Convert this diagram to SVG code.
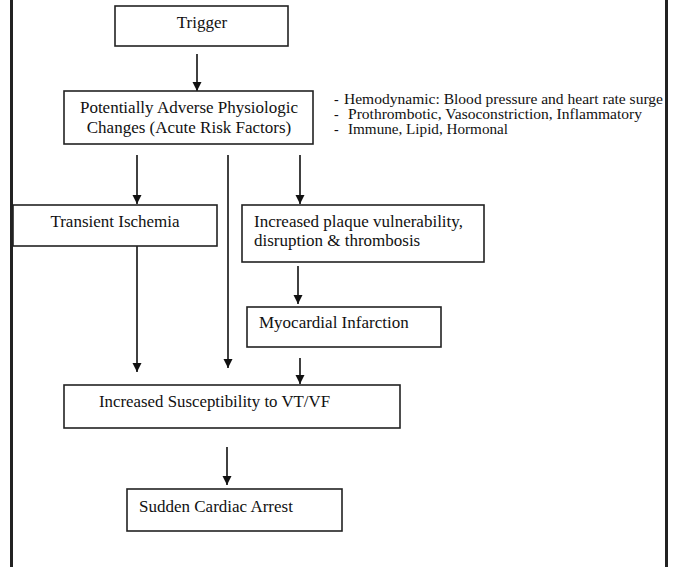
<svg xmlns="http://www.w3.org/2000/svg" width="678" height="567" viewBox="0 0 678 567">
<defs>
<style>
.box{fill:#fff;stroke:#222;stroke-width:1.6}
.t{font-family:"Liberation Serif","Times New Roman",serif;font-size:17px;fill:#111}
.s{font-family:"Liberation Serif","Times New Roman",serif;font-size:14px;fill:#111}
.c{stroke:#111;stroke-width:1.6;fill:none;marker-end:url(#ah)}
.frame{stroke:#222;stroke-width:3}
</style>
<marker id="ah" viewBox="0 0 10 10" refX="10" refY="5" markerUnits="userSpaceOnUse" markerWidth="9" markerHeight="10" orient="auto">
<path d="M0,0 L10,5 L0,10 Z" fill="#111"/>
</marker>
</defs>
<rect width="678" height="567" fill="#fff"/>
<line class="frame" x1="11.5" y1="0" x2="11.5" y2="567"/>
<line class="frame" x1="666.5" y1="0" x2="666.5" y2="567"/>
<g id="connectors">
<line class="c" x1="197" y1="54" x2="197" y2="91"/>
<line class="c" x1="137" y1="155" x2="137" y2="204"/>
<line class="c" x1="228" y1="155" x2="228" y2="368"/>
<line class="c" x1="300" y1="155" x2="300" y2="204"/>
<line class="c" x1="137" y1="246" x2="137" y2="372"/>
<line class="c" x1="298" y1="266" x2="298" y2="304"/>
<line class="c" x1="300" y1="358" x2="300" y2="384"/>
<line class="c" x1="227" y1="447" x2="227" y2="485"/>
</g>
<g id="trigger">
<rect class="box" x="115" y="6" width="173" height="40"/>
<text class="t" x="202" y="28" text-anchor="middle">Trigger</text>
</g>
<g id="adverse">
<rect class="box" x="64" y="91" width="249" height="53"/>
<text class="t" x="189" y="113" text-anchor="middle">Potentially Adverse Physiologic</text>
<text class="t" x="189" y="133" text-anchor="middle">Changes (Acute Risk Factors)</text>
</g>
<g id="risk-list">
<text class="s" x="334" y="104">-</text>
<text class="s" x="344" y="104" textLength="319" lengthAdjust="spacingAndGlyphs">Hemodynamic: Blood pressure and heart rate surge</text>
<text class="s" x="334" y="119">-</text>
<text class="s" x="348" y="119" textLength="294" lengthAdjust="spacingAndGlyphs">Prothrombotic, Vasoconstriction, Inflammatory</text>
<text class="s" x="334" y="134">-</text>
<text class="s" x="348" y="134" textLength="160" lengthAdjust="spacingAndGlyphs">Immune, Lipid, Hormonal</text>
</g>
<g id="ischemia">
<rect class="box" x="13" y="205" width="204" height="41"/>
<text class="t" x="115" y="227" text-anchor="middle">Transient Ischemia</text>
</g>
<g id="plaque">
<rect class="box" x="242" y="205" width="242" height="57"/>
<text class="t" x="254" y="227">Increased plaque vulnerability,</text>
<text class="t" x="254" y="246">disruption &amp; thrombosis</text>
</g>
<g id="mi">
<rect class="box" x="247" y="307" width="194" height="40"/>
<text class="t" x="259" y="328">Myocardial Infarction</text>
</g>
<g id="vtvf">
<rect class="box" x="64" y="385" width="336" height="43"/>
<text class="t" x="99" y="407" textLength="231" lengthAdjust="spacingAndGlyphs">Increased Susceptibility to VT/VF</text>
</g>
<g id="sca">
<rect class="box" x="127" y="489" width="215" height="42"/>
<text class="t" x="139" y="512">Sudden Cardiac Arrest</text>
</g>
</svg>
